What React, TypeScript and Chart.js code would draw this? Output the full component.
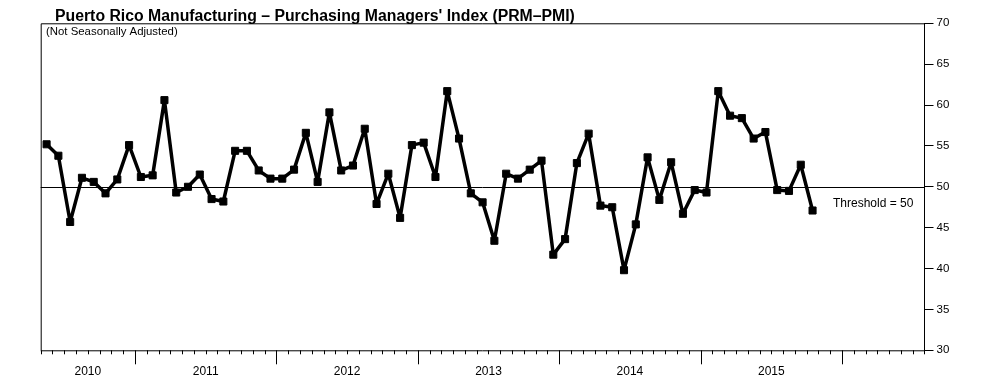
import React, { useEffect, useRef } from "react";
import { Chart, registerables } from "chart.js";

Chart.register(...registerables);

const monthLabels = [
  "2010-05", "2010-06", "2010-07", "2010-08", "2010-09", "2010-10", "2010-11", "2010-12",
  "2011-01", "2011-02", "2011-03", "2011-04", "2011-05", "2011-06", "2011-07", "2011-08", "2011-09", "2011-10", "2011-11", "2011-12",
  "2012-01", "2012-02", "2012-03", "2012-04", "2012-05", "2012-06", "2012-07", "2012-08", "2012-09", "2012-10", "2012-11", "2012-12",
  "2013-01", "2013-02", "2013-03", "2013-04", "2013-05", "2013-06", "2013-07", "2013-08", "2013-09", "2013-10", "2013-11", "2013-12",
  "2014-01", "2014-02", "2014-03", "2014-04", "2014-05", "2014-06", "2014-07", "2014-08", "2014-09", "2014-10", "2014-11", "2014-12",
  "2015-01", "2015-02", "2015-03", "2015-04", "2015-05", "2015-06", "2015-07", "2015-08", "2015-09", "2015-10", "2015-11", "2015-12",
  "2016-01", "2016-02", "2016-03", "2016-04", "2016-05", "2016-06", "2016-07",
];

const pmiValues = [
  55.2, 53.8, 45.7, 51.1, 50.6, 49.2, 50.9, 55.1,
  51.2, 51.4, 60.6, 49.3, 50.0, 51.5, 48.5, 48.2, 54.4, 54.4, 52.0, 51.0, 51.0, 52.1,
  56.6, 50.6, 59.1, 52.0, 52.6, 57.1, 47.9, 51.6, 46.2, 55.1, 55.4, 51.2,
  61.7, 55.9, 49.2, 48.1, 43.4, 51.6, 51.0, 52.1, 53.2, 41.7, 43.6, 52.9,
  56.5, 47.7, 47.5, 39.8, 45.4, 53.6, 48.4, 53.0, 46.7, 49.6, 49.3, 61.7,
  58.7, 58.4, 55.9, 56.7, 49.6, 49.5, 52.7, 47.1,
];

const yearLabels = ["2010", "2011", "2012", "2013", "2014", "2015"];
const thresholdValue = 50;
const yTicks = [30, 35, 40, 45, 50, 55, 60, 65, 70];

const titleText = "Puerto Rico Manufacturing \u2013 Purchasing Managers' Index (PRM\u2013PMI)";
const subtitleText = "(Not Seasonally Adjusted)";
const thresholdText = "Threshold = 50";

const FONT = "'Liberation Sans', Arial, Helvetica, sans-serif";

const framePlugin = {
  id: "framePlugin",
  beforeDatasetsDraw(chart: any) {
    const { ctx, chartArea } = chart;
    const y = chart.scales.y;
    const ty = Math.round(y.getPixelForValue(thresholdValue)) + 0.5;
    ctx.save();
    ctx.strokeStyle = "#000";
    ctx.lineWidth = 1;
    ctx.beginPath();
    ctx.moveTo(chartArea.left, ty);
    ctx.lineTo(chartArea.right, ty);
    ctx.stroke();
    ctx.restore();
  },
  afterDraw(chart: any) {
    const { ctx, chartArea } = chart;
    const x = chart.scales.x;
    const y = chart.scales.y;
    ctx.save();
    ctx.strokeStyle = "#000";
    ctx.lineWidth = 1;
    // frame
    ctx.beginPath();
    ctx.moveTo(chartArea.left + 0.5, chartArea.bottom);
    ctx.lineTo(chartArea.left + 0.5, chartArea.top + 0.5);
    ctx.lineTo(chartArea.right, chartArea.top + 0.5);
    ctx.moveTo(chartArea.left, chartArea.bottom + 0.5);
    ctx.lineTo(chartArea.right, chartArea.bottom + 0.5);
    ctx.stroke();

    // month ticks
    const w = x.getPixelForValue(1) - x.getPixelForValue(0);
    for (let i = 0; i <= monthLabels.length; i++) {
      const px = Math.round(x.getPixelForValue(i) - w / 2) + 0.5;
      const isYear = i < monthLabels.length && i > 0 && monthLabels[i].endsWith("-01");
      ctx.beginPath();
      ctx.moveTo(px, chartArea.bottom);
      ctx.lineTo(px, chartArea.bottom + (isYear ? 14 : 4));
      ctx.stroke();
    }

    // year labels
    ctx.fillStyle = "#000";
    ctx.font = `12px ${FONT}`;
    ctx.textAlign = "center";
    ctx.textBaseline = "middle";
    yearLabels.forEach((yr) => {
      const idx = monthLabels.map((m, i) => (m.startsWith(yr) ? i : -1)).filter((i) => i >= 0);
      const a = x.getPixelForValue(idx[0]) - w / 2;
      const b = x.getPixelForValue(idx[idx.length - 1]) + w / 2;
      ctx.fillText(yr, (a + b) / 2, chartArea.bottom + 21);
    });

    // title
    ctx.textAlign = "left";
    ctx.textBaseline = "alphabetic";
    ctx.font = `bold 15.8px ${FONT}`;
    ctx.fillText(titleText, 55, 20.5);
    ctx.font = `11.4px ${FONT}`;
    ctx.fillText(subtitleText, 46, 34.5);

    // threshold label
    ctx.font = `12px ${FONT}`;
    ctx.textBaseline = "middle";
    ctx.fillText(thresholdText, 833, y.getPixelForValue(thresholdValue) + 16.5);
    ctx.restore();
  },
};

export default function App() {
  const canvasRef = useRef<HTMLCanvasElement | null>(null);

  useEffect(() => {
    if (!canvasRef.current) return;
    Chart.defaults.font.family = FONT;
    const chart = new Chart(canvasRef.current, {
      type: "line",
      data: {
        labels: monthLabels,
        datasets: [
          {
            label: "PRM-PMI",
            data: pmiValues,
            borderColor: "#000",
            backgroundColor: "#000",
            borderWidth: 3.5,
            borderJoinStyle: "round",
            borderCapStyle: "round",
            pointStyle: "rect",
            pointRadius: 5,
            pointBorderWidth: 1,
            pointBackgroundColor: "#000",
            pointBorderColor: "#000",
            tension: 0,
          },
        ],
      },
      options: {
        animation: false,
        responsive: true,
        maintainAspectRatio: false,
        layout: { padding: { left: 40.7, top: 23.3, right: 0, bottom: 0 } },
        plugins: {
          legend: { display: false },
          tooltip: { enabled: false },
          title: { display: false },
        },
        scales: {
          x: {
            type: "category",
            offset: true,
            ticks: { display: false },
            grid: { display: false },
            border: { display: false },
            afterFit(s: any) {
              s.height = 38.7;
            },
          },
          y: {
            position: "right",
            min: 30,
            max: 70,
            afterBuildTicks(s: any) {
              s.ticks = yTicks.map((v) => ({ value: v }));
            },
            ticks: {
              color: "#000",
              font: { size: 11.5, family: FONT },
              padding: 3,
            },
            grid: {
              drawOnChartArea: false,
              drawTicks: true,
              tickLength: 9,
              color: "#000",
              lineWidth: 1,
            },
            border: { display: true, color: "#000", width: 1 },
            afterFit(s: any) {
              s.width = 63.5;
            },
          },
        },
      },
      plugins: [framePlugin],
    });
    return () => chart.destroy();
  }, []);

  return (
    <div style={{ position: "absolute", left: 0, top: 0, width: 988, height: 389, background: "#fff" }}>
      <canvas ref={canvasRef} />
    </div>
  );
}
